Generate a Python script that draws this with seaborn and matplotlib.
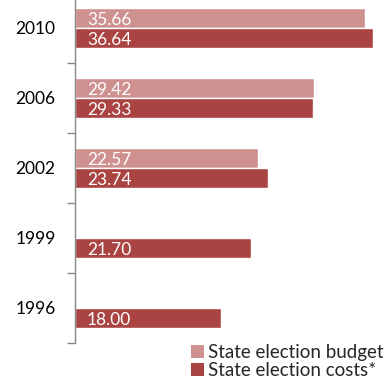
import numpy as np
import pandas as pd
import matplotlib
matplotlib.use("Agg")
import matplotlib.pyplot as plt
import seaborn as sns
from matplotlib.patches import Patch

years = ["2010", "2006", "2002", "1999", "1996"]
budget = [35.66, 29.42, 22.57, np.nan, np.nan]
costs = [36.64, 29.33, 23.74, 21.70, 18.00]
series = ["State election budget", "State election costs*"]
colors = ["#CF9190", "#A94442"]

sns.set_theme(style="white")
plt.rcParams["font.family"] = ["Lato", "DejaVu Sans"]

df = pd.DataFrame({
    "year": years * 2,
    "series": [series[0]] * len(years) + [series[1]] * len(years),
    "value": budget + costs,
})

fig = plt.figure(figsize=(3.87, 3.83), dpi=100)
ax = fig.add_axes([75 / 387, 40 / 383, 1 - 75 / 387, 350 / 383])

sns.barplot(data=df, y="year", x="value", hue="series", order=years,
            hue_order=series, palette=colors, orient="h", width=0.56,
            saturation=1, ax=ax, legend=False)

ax.set_xlim(0, 38.4)
ax.set_ylim(4.5, -0.5)
ax.set_xlabel("")
ax.set_ylabel("")

# value labels inside the bars, near the axis
for cont in ax.containers:
    for bar in cont:
        w = bar.get_width()
        if not np.isfinite(w) or w == 0:
            continue
        yc = bar.get_y() + bar.get_height() / 2
        ax.annotate(f"{w:.2f}", xy=(0, yc), xytext=(12, -2),
                    textcoords="offset pixels", ha="left", va="center",
                    color="white", fontsize=12.5)

# y axis: tick marks between categories, labels at category centres
ax.set_yticks(np.arange(len(years)) + 0.5)
ax.set_yticklabels([])
ax.set_yticks(np.arange(len(years)), minor=True)
ax.set_yticklabels(years, minor=True, fontsize=12.5, color="black")
ax.tick_params(axis="y", which="major", length=6, width=1, color="#888888",
               direction="out", left=True)
ax.tick_params(axis="y", which="minor", length=0, pad=14)
ax.set_xticks([])

for side in ["top", "right", "bottom"]:
    ax.spines[side].set_visible(False)
ax.spines["left"].set_color("#888888")
ax.spines["left"].set_linewidth(1)

handles = [Patch(facecolor=c, edgecolor="none") for c in colors]
fig.legend(handles, series, loc="lower right", bbox_to_anchor=(1.0, 0.0),
           frameon=False, fontsize=13.5, handlelength=0.7, handleheight=0.7,
           handletextpad=0.2, labelspacing=0.05, borderaxespad=0.1,
           borderpad=0.1)

fig.savefig("out.png", dpi=100)
